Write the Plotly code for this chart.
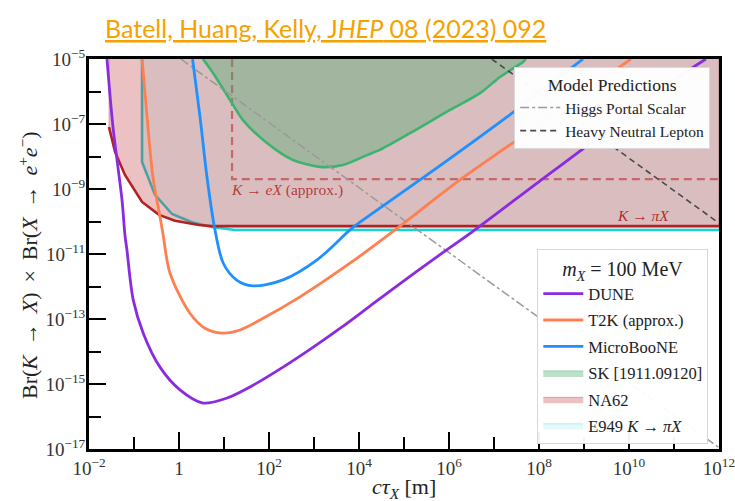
import plotly.graph_objects as go

# ---------------- data ----------------
Y_TOP = 1e-5

dune_x = [0.0251, 0.0341, 0.0541, 0.063, 0.0698, 0.0964, 0.161, 0.378, 1.05, 3.41, 11.7, 37.8, 205, 1000, 3980, 1.58e4, 5.7e4, 7.4e5, 3.4e6, 1.23e8, 1.58e9, 2.9e10, 5.1e11]
dune_y = [1e-5, 8.1e-8, 4.6e-10, 3.8e-11, 1.3e-11, 3.8e-13, 3.6e-14, 3.3e-15, 6.6e-16, 2.6e-16, 3.7e-16, 8.1e-16, 3.3e-15, 1.41e-14, 5.4e-14, 2.24e-13, 8.5e-13, 1.12e-11, 5.0e-11, 2.1e-9, 2.9e-8, 7.0e-7, 1e-5]

t2k_x = [0.151, 0.195, 0.264, 0.378, 0.44, 0.63, 1.75, 3.78, 9.0, 22.7, 63, 489, 6300, 6.3e4, 1.75e6, 3.2e7, 1.1e10]
t2k_y = [1e-5, 1.66e-7, 2.3e-9, 1.38e-10, 4.2e-11, 2.6e-12, 1.5e-13, 5.2e-14, 3.7e-14, 4.6e-14, 9.3e-14, 4.8e-13, 5.2e-12, 5.5e-11, 1.9e-9, 3.2e-8, 1e-5]

ub_x = [2.0, 2.93, 4.19, 6.3, 9.7, 19.1, 44, 205, 1170, 6300, 1.05e4, 3.24e5, 1.95e7, 9.5e8]
ub_y = [1e-5, 1.66e-7, 2.3e-9, 5.5e-11, 5.1e-12, 1.58e-12, 1.05e-12, 1.6e-12, 6.6e-12, 5.5e-11, 9.5e-11, 2.7e-9, 1.66e-7, 1e-5]

sk_x = [3.41, 5.7, 13.6, 26.4, 90, 341, 1360, 4400, 1.5e4, 2.9e4, 1.36e5, 1.05e6, 4.9e6, 1.36e7, 4.4e7, 5.1e7]
sk_y = [1e-5, 3.7e-6, 5.5e-7, 1.32e-7, 2.6e-8, 7.8e-9, 4.8e-9, 5.5e-9, 1.1e-8, 1.6e-8, 5.2e-8, 2.7e-7, 8.9e-7, 2.8e-6, 8.1e-6, 1e-5]

na62_x = [0.0278, 0.0379, 0.063, 0.151, 0.36, 0.815, 2.78, 5.4, 1e12]
na62_y = [8.1e-8, 1.38e-8, 2.7e-9, 4.0e-10, 1.6e-10, 1.05e-10, 7.8e-11, 7.2e-11, 7.2e-11]

e949_x = [0.151, 0.151, 0.293, 0.70, 1.94, 5.4, 17.5, 1e12]
e949_y = [1e-5, 6.8e-9, 6.6e-10, 1.7e-10, 9.5e-11, 6.8e-11, 5.5e-11, 5.5e-11]

kex_x = [15.1, 15.1, 1e12]
kex_y = [1e-5, 2.0e-9, 2.0e-9]

higgs_x = [1.1, 1e12]
higgs_y = [1e-5, 1.1e-17]

hnl_x = [8.9e6, 1e12]
hnl_y = [1e-5, 8.9e-11]

x_tick_vals = [1e-2, 1, 1e2, 1e4, 1e6, 1e8, 1e10, 1e12]
x_tick_text = ["10<sup>−2</sup>", "1", "10<sup>2</sup>", "10<sup>4</sup>", "10<sup>6</sup>",
               "10<sup>8</sup>", "10<sup>10</sup>", "10<sup>12</sup>"]
x_minor_vals = [1e-1, 1e1, 1e3, 1e5, 1e7, 1e9, 1e11]
y_tick_vals = [1e-17, 1e-15, 1e-13, 1e-11, 1e-9, 1e-7, 1e-5]
y_tick_text = ["10<sup>−17</sup>", "10<sup>−15</sup>", "10<sup>−13</sup>", "10<sup>−11</sup>",
               "10<sup>−9</sup>", "10<sup>−7</sup>", "10<sup>−5</sup>"]
y_minor_vals = [1e-16, 1e-14, 1e-12, 1e-10, 1e-8, 1e-6]

# ---------------- styles ----------------
SERIF = "Liberation Serif"
C_DUNE = "#8a2be2"
C_T2K = "#ff7f50"
C_UB = "#1e90ff"
C_SK = "#3cb371"
C_NA62 = "#b22222"
C_E949 = "#1fd0d0"
SP = "\u2009"  # thin space, mimics TeX math spacing

fig = go.Figure()

# E949 region and boundary (underneath NA62 so the line looks teal there)
fig.add_trace(go.Scatter(
    x=e949_x + [e949_x[-1]], y=e949_y + [Y_TOP], fill="toself",
    fillcolor="rgba(0,200,210,0.10)", line=dict(color="rgba(0,200,210,0.25)", width=1),
    mode="lines", name="E949 <i>K</i> → <i>πX</i>", legend="legend", legendrank=6,
    legendgroup="e949", hoverinfo="skip"))
fig.add_trace(go.Scatter(x=e949_x, y=e949_y, mode="lines", showlegend=False,
                         line=dict(color=C_E949, width=2.6)))

# NA62 region and boundary
fig.add_trace(go.Scatter(
    x=[na62_x[0]] + na62_x + [na62_x[-1]], y=[Y_TOP] + na62_y + [Y_TOP], fill="toself",
    fillcolor="rgba(190,50,55,0.30)", line=dict(color="rgba(178,34,34,0.30)", width=1),
    mode="lines", name="NA62", legend="legend", legendrank=5, legendgroup="na62",
    hoverinfo="skip"))
fig.add_trace(go.Scatter(x=na62_x, y=na62_y, mode="lines", showlegend=False,
                         line=dict(color=C_NA62, width=2.6)))

# K -> eX (approx.) dashed box
fig.add_trace(go.Scatter(x=kex_x, y=kex_y, mode="lines", showlegend=False,
                         line=dict(color="rgba(178,34,34,0.55)", width=2.2, dash="8px,5px")))

# SK region and boundary
fig.add_trace(go.Scatter(
    x=sk_x, y=sk_y, fill="toself", fillcolor="rgba(60,170,100,0.35)",
    line=dict(color="rgba(60,179,113,0.45)", width=1), mode="lines",
    name="SK [1911.09120]", legend="legend", legendrank=4, legendgroup="sk", hoverinfo="skip"))
fig.add_trace(go.Scatter(x=sk_x, y=sk_y, mode="lines", showlegend=False,
                         line=dict(color=C_SK, width=2.6, shape="spline", smoothing=0.8)))

# Model predictions
fig.add_trace(go.Scatter(x=higgs_x, y=higgs_y, mode="lines", name="Higgs Portal Scalar",
                         legend="legend2", line=dict(color="#9a9a9a", width=1.5, dash="dashdot")))
fig.add_trace(go.Scatter(x=hnl_x, y=hnl_y, mode="lines", name="Heavy Neutral Lepton",
                         legend="legend2", line=dict(color="#4a4a4a", width=1.6, dash="6px,4px")))

# Sensitivity curves
for xs, ys, nm, col, rk in [(dune_x, dune_y, "DUNE", C_DUNE, 1),
                            (t2k_x, t2k_y, "T2K (approx.)", C_T2K, 2),
                            (ub_x, ub_y, "MicroBooNE", C_UB, 3)]:
    fig.add_trace(go.Scatter(x=xs, y=ys, mode="lines", name=nm, legend="legend", legendrank=rk,
                             legendgroup=nm,
                             line=dict(color=col, width=2.8, shape="spline", smoothing=0.9)))

# Text labels
fig.add_annotation(x=1.12, y=-9.03, xref="x", yref="y", xanchor="left", yanchor="middle",
                   text="<i>K</i> → <i>eX</i> (approx.)", showarrow=False,
                   font=dict(family=SERIF, size=15.5, color="rgba(178,34,34,0.85)"))
fig.add_annotation(x=10.31, y=-9.83, xref="x", yref="y", xanchor="center", yanchor="middle",
                   text="<i>K</i> → <i>πX</i>", showarrow=False,
                   font=dict(family=SERIF, size=15.5, color="rgba(178,34,34,0.95)"))

# Title (paper coords are relative to the plot area: x 89..719, y 59..449 px)
fig.add_annotation(x=(103 - 89) / 630, y=(449 - 28) / 390, xref="paper", yref="paper",
                   xanchor="left", yanchor="middle", showarrow=False,
                   text="<u>Batell, Huang, Kelly, J<i>HEP</i> 08 (2023) 092</u>",
                   font=dict(family="Lato", size=25, color="#f5a200"))

# Axis titles
ytitle = ("Br(<i>K</i>" + SP + " → " + SP + "<i>X</i>)" + SP + " × " + SP +
          "Br(<i>X</i>" + SP + " → " + SP + "<i>e</i><sup>+</sup><i>e</i><sup>−</sup>)")
fig.add_annotation(x=(28 - 89) / 630, y=(449 - 265) / 390, xref="paper", yref="paper",
                   xanchor="center", yanchor="middle", showarrow=False, textangle=-90,
                   text=ytitle, font=dict(family=SERIF, size=22, color="#222"))
fig.add_annotation(x=(404 - 89) / 630, y=(449 - 488) / 390, xref="paper", yref="paper",
                   xanchor="center", yanchor="middle", showarrow=False,
                   text="<i>cτ</i><sub><i>X</i></sub> [m]",
                   font=dict(family=SERIF, size=22, color="#222"))

axis_common = dict(type="log", showline=True, linewidth=3, linecolor="black", mirror=True,
                   ticks="inside", ticklen=17, tickwidth=2, tickcolor="black",
                   showgrid=False, zeroline=False, automargin=False,
                   ticklabeloverflow="allow",
                   tickfont=dict(family=SERIF, size=19, color="#333"))

fig.update_layout(
    width=735, height=501,
    margin=dict(l=89, r=16, t=59, b=52),
    paper_bgcolor="white", plot_bgcolor="white",
    xaxis=dict(range=[-2, 12], tickmode="array", tickvals=x_tick_vals, ticktext=x_tick_text,
               minor=dict(tickmode="array", tickvals=x_minor_vals, ticks="inside", ticklen=12,
                          tickwidth=1.5, tickcolor="black"),
               **axis_common),
    yaxis=dict(range=[-17, -5], tickmode="array", tickvals=y_tick_vals, ticktext=y_tick_text,
               minor=dict(tickmode="array", tickvals=y_minor_vals, ticks="inside", ticklen=12,
                          tickwidth=1.5, tickcolor="black"),
               ticklabelstandoff=-3,
               **axis_common),
    legend=dict(x=0.983, y=0.012, xanchor="right", yanchor="bottom",
                bgcolor="rgba(255,255,255,0.95)", bordercolor="#d8d8d8", borderwidth=1,
                font=dict(family=SERIF, size=16.5, color="#222"), itemwidth=40,
                title=dict(text="<i>m</i><sub><i>X</i></sub> = 100 MeV", side="top center",
                           font=dict(family=SERIF, size=20, color="#222")),
                tracegroupgap=2),
    legend2=dict(x=0.986, y=0.979, xanchor="right", yanchor="top",
                 bgcolor="rgba(255,255,255,0.97)", bordercolor="#d8d8d8", borderwidth=1,
                 font=dict(family=SERIF, size=15.5, color="#222"), itemwidth=40,
                 title=dict(text="Model Predictions", side="top center",
                            font=dict(family=SERIF, size=17.5, color="#222"))),
    showlegend=True,
)

fig.write_html("out.html")
